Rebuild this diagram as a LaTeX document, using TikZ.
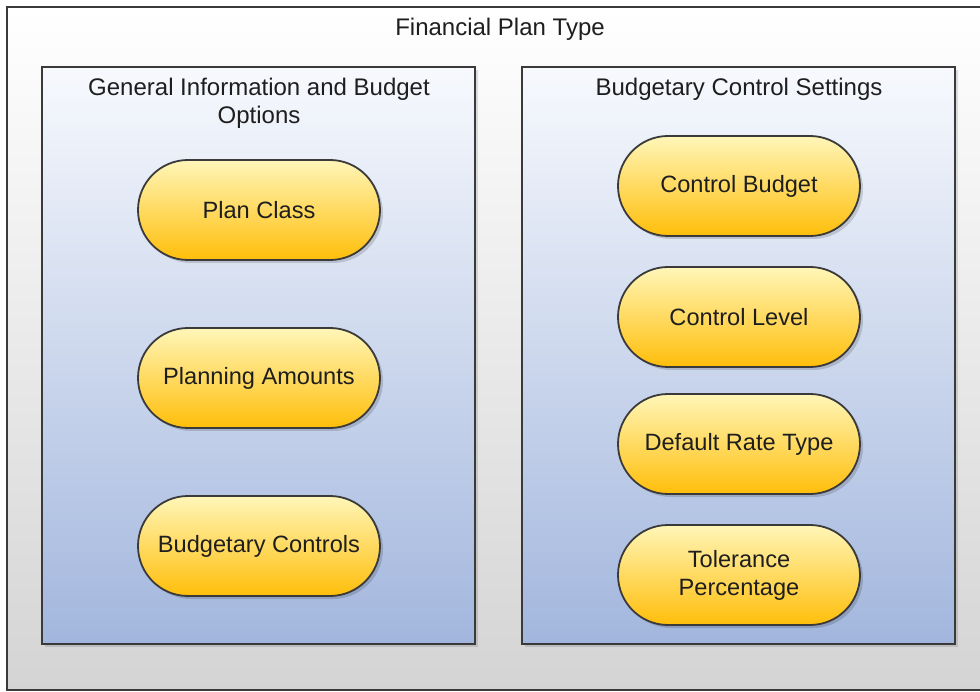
\documentclass[tikz,border=0pt]{standalone}
\usepackage{fontspec}
\setmainfont{Liberation Sans}
\usetikzlibrary{shapes.misc,shadows}
\definecolor{edge}{HTML}{3A3A3A}
\definecolor{outtop}{HTML}{FFFFFF}
\definecolor{outbot}{HTML}{D4D4D4}
\definecolor{intop}{HTML}{F7F9FD}
\definecolor{inbot}{HTML}{A2B6DD}
\definecolor{piltop}{HTML}{FFF6B8}
\definecolor{pilbot}{HTML}{FFBE0A}
\definecolor{txt}{HTML}{1E1E1E}
\tikzset{
  x=1pt,y=-1pt,
  outerbox/.style={draw=edge,line width=2.2pt,top color=outtop,bottom color=outbot},
  innerbox/.style={draw=edge,line width=2pt,top color=intop,bottom color=inbot,
     drop shadow={shadow xshift=3pt,shadow yshift=-3pt,fill=black,opacity=0.12}},
  pill/.style={rounded rectangle,draw=edge,line width=1.8pt,top color=piltop,bottom color=pilbot,
     minimum width=242pt,minimum height=100pt,inner sep=0pt,align=center,
     font=\fontsize{23.6}{28}\selectfont,text=txt,
     drop shadow={shadow xshift=3pt,shadow yshift=-3pt,fill=black,opacity=0.15}},
  title/.style={font=\fontsize{24}{28}\selectfont,text=txt,align=center,inner sep=0pt}
}
\begin{document}
\begin{tikzpicture}
\useasboundingbox (0,0) rectangle (980,692);
\clip (0,0) rectangle (980,692);
\fill[white] (0,0) rectangle (980,692);
\draw[outerbox] (7,7) rectangle (1000,690);
\node[title] (tmain) at (500,29) {Financial Plan Type};
\draw[innerbox] (42,67) rectangle (475,644);
\draw[innerbox] (522,67) rectangle (955,644);
\node[title] (tleft) at (259,103) {General Information and Budget\\Options};
\node[title] (tright) at (739,89) {Budgetary Control Settings};
\node[pill] (pc) at (259,210) {Plan Class};
\node[pill] (pa) at (259,378) {Planning Amounts};
\node[pill] (bc) at (259,546) {Budgetary Controls};
\node[pill] (cb) at (739,186) {Control Budget};
\node[pill] (cl) at (739,317) {Control Level};
\node[pill] (dr) at (739,444) {Default Rate Type};
\node[pill] (tp) at (739,575) {Tolerance\\Percentage};
\end{tikzpicture}
\end{document}
